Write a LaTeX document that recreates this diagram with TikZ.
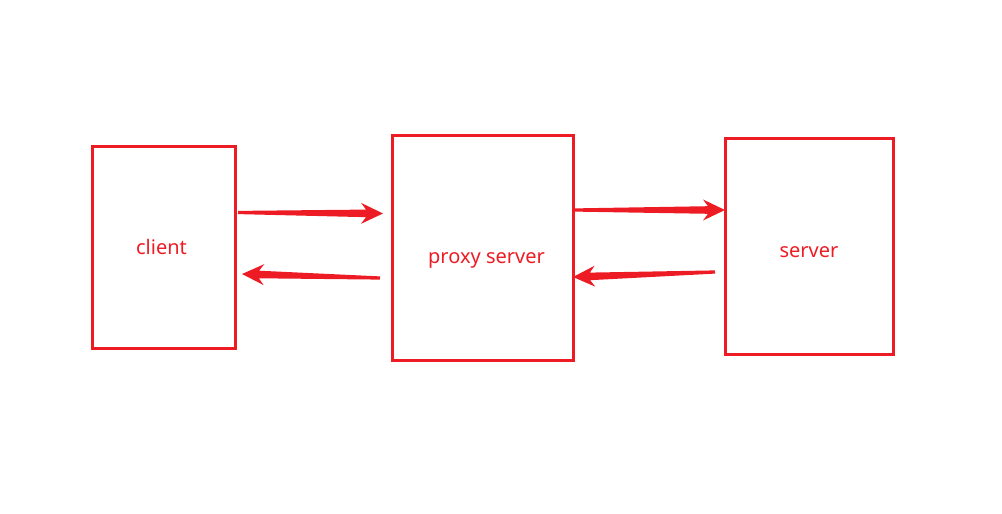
\documentclass[tikz,border=0pt]{standalone}
\usepackage{fontspec}
\setmainfont{Noto Sans}
\usetikzlibrary{calc}
\definecolor{boxred}{HTML}{ED1C24}
\tikzset{%
  % boxes and their labels
        base/.style = {rectangle, draw=boxred, line width=3pt, outer sep=0pt},
     boxtext/.style = {text=boxred, font=\fontsize{20}{24}\selectfont},
   clientbox/.style = {base, minimum width=143pt, minimum height=202pt},
    proxybox/.style = {base, minimum width=181pt, minimum height=225pt},
   serverbox/.style = {base, minimum width=168pt, minimum height=216pt},
}
% tapered arrow from #1 to #2
\newcommand{\taperarrow}[2]{%
  \coordinate (hb) at ($(#2)!17pt!(#1)$);
  \coordinate (hw) at ($(#2)!22pt!(#1)$);
  \fill[boxred] ($(#1)!1.6pt!90:(#2)$) -- ($(hb)!3.8pt!90:(#2)$)
    -- ($(hw)!10.5pt!90:(#2)$) -- (#2) -- ($(hw)!10.5pt!-90:(#2)$)
    -- ($(hb)!3.8pt!-90:(#2)$) -- ($(#1)!1.6pt!-90:(#2)$) -- cycle;
}
\begin{document}
\begin{tikzpicture}[x=1pt, y=-1pt]
  \useasboundingbox (0,0) rectangle (1002,514);
  % the three boxes
  \node (client) [clientbox, label={[boxtext, xshift=-2pt]center:client}]
    at (163.5,247) {};
  \node (proxy)  [proxybox, label={[boxtext, xshift=4pt, yshift=-13pt]center:proxy server}]
    at (482.5,247.5) {};
  \node (server) [serverbox, label={[boxtext, yshift=-6pt]center:server}]
    at (809,246) {};
  % arrow ends
  \coordinate (req1s) at ([xshift=3pt,yshift=34.5pt]client.east);
  \coordinate (req1e) at ([xshift=-9pt,yshift=34pt]proxy.west);
  \coordinate (res1s) at ([xshift=-12pt,yshift=-30.5pt]proxy.west);
  \coordinate (res1e) at ([xshift=7pt,yshift=-27pt]client.east);
  \coordinate (req2s) at ([xshift=1pt,yshift=37.5pt]proxy.east);
  \coordinate (req2e) at ([yshift=36pt]server.west);
  \coordinate (res2s) at ([xshift=-10pt,yshift=-26pt]server.west);
  \coordinate (res2e) at ([yshift=-29.5pt]proxy.east);
  % arrows
  \taperarrow{req1s}{req1e}
  \taperarrow{res1s}{res1e}
  \taperarrow{req2s}{req2e}
  \taperarrow{res2s}{res2e}
\end{tikzpicture}
\end{document}
